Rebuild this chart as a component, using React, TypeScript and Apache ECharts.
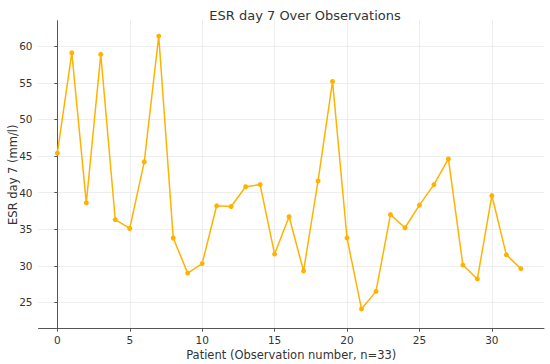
import React, { useEffect, useRef } from "react";
import * as echarts from "echarts";

const patients: number[] = Array.from({ length: 33 }, (_, i) => i);
const esrDay7: number[] = [
  45.4, 59.1, 38.6, 58.9, 36.3, 35.1, 44.2, 61.4, 33.8, 29.0,
  30.3, 38.2, 38.1, 40.8, 41.1, 31.6, 36.7, 29.3, 41.6, 55.2,
  33.8, 24.1, 26.5, 37.0, 35.2, 38.3, 41.1, 44.6, 30.1, 28.2,
  39.6, 31.5, 29.6,
];
const xTicks: number[] = [0, 5, 10, 15, 20, 25, 30];
const yTicks: number[] = [25, 30, 35, 40, 45, 50, 55, 60];

const FONT = "DejaVu Sans";

export default function App() {
  const ref = useRef<HTMLDivElement>(null);
  useEffect(() => {
    if (!ref.current) return;
    const chart = echarts.init(ref.current, undefined, { renderer: "svg" });
    const axisCommon = {
      axisLine: { show: true, lineStyle: { color: "#555", width: 1 } },
      axisLabel: { color: "#333", fontSize: 10.5, fontFamily: FONT },
      splitLine: { show: true, lineStyle: { color: "#ddd", type: "dotted", width: 1 } },
      nameTextStyle: { color: "#333", fontSize: 11.5, fontFamily: FONT },
      nameMoveOverlap: false,
    };
    chart.setOption({
      animation: false,
      backgroundColor: "#fff",
      title: {
        text: "ESR day 7 Over Observations",
        left: 300,
        top: 4,
        textAlign: "center",
        textStyle: { fontFamily: FONT, fontSize: 13, fontWeight: "normal", color: "#333" },
      },
      grid: {
        left: 38.5, right: 6, top: 20.7, bottom: 35.3,
        containLabel: false, outerBoundsMode: "none",
      },
      xAxis: {
        type: "value",
        min: -1.3,
        max: 33.6,
        name: "Patient (Observation number, n=33)",
        nameLocation: "middle",
        nameGap: 20,
        ...axisCommon,
        axisTick: { show: true, length: 3, lineStyle: { color: "#555" }, customValues: xTicks },
        axisLabel: { ...axisCommon.axisLabel, customValues: xTicks, margin: 6 },
      },
      yAxis: {
        type: "value",
        min: 21.4,
        max: 63.5,
        name: "ESR day 7 (mm/l)",
        nameLocation: "middle",
        nameGap: 20,
        ...axisCommon,
        axisTick: { show: true, length: 3, lineStyle: { color: "#555" }, customValues: yTicks },
        axisLabel: { ...axisCommon.axisLabel, customValues: yTicks, margin: 6 },
      },
      series: [
        {
          type: "line",
          data: patients.map((p, i) => [p, esrDay7[i]]),
          symbol: "circle",
          symbolSize: 5,
          lineStyle: { color: "#FFB300", width: 1.5 },
          itemStyle: { color: "#FFB300" },
        },
      ],
    });
    return () => chart.dispose();
  }, []);
  return <div ref={ref} style={{ width: 550, height: 364, position: "absolute", left: 0, top: 0 }} />;
}
